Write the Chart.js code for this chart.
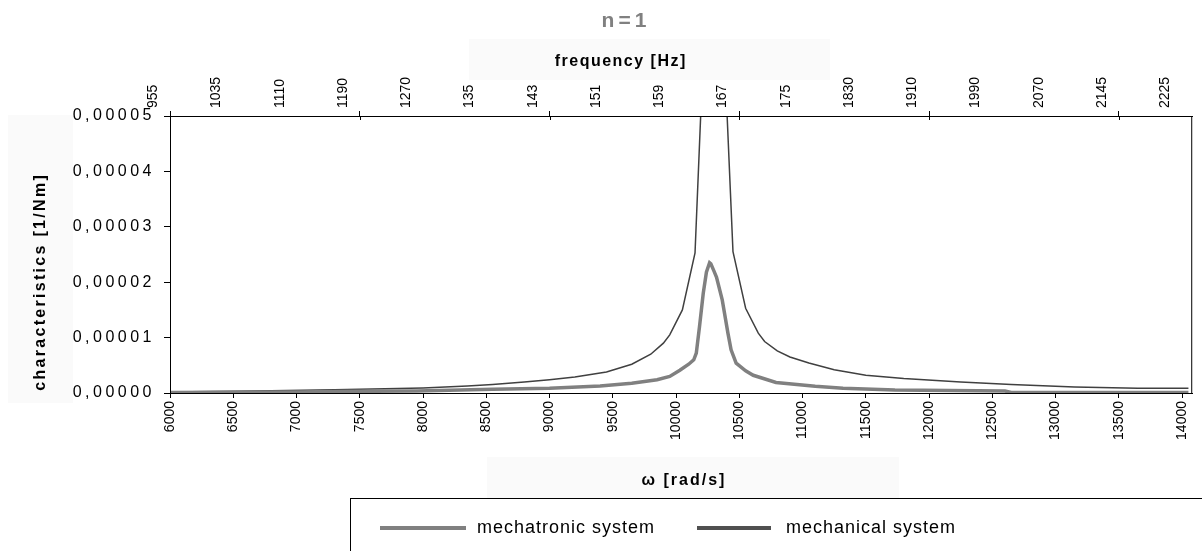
<!DOCTYPE html>
<html>
<head>
<meta charset="utf-8">
<script src="https://cdn.jsdelivr.net/npm/chart.js@4.4.1/dist/chart.umd.min.js"></script>
<style>
  html, body { margin: 0; padding: 0; background: #fff; }
  #wrap { position: relative; width: 1202px; height: 551px; }
</style>
</head>
<body>
<div id="wrap"><canvas id="freqChart"></canvas></div>
<script>
// omega ticks [rad/s] and the matching frequency labels [Hz] (as printed, some truncated)
const omegaTicks = [6000, 6500, 7000, 7500, 8000, 8500, 9000, 9500, 10000, 10500, 11000, 11500, 12000, 12500, 13000, 13500, 14000];
const freqLabels = ["955", "1035", "1110", "1190", "1270", "135", "143", "151", "159", "167", "175", "1830", "1910", "1990", "2070", "2145", "2225"];

// mechanical system (values in 1e-5 1/Nm)
const omegaMech = [6000, 6500, 6800, 7300, 7800, 8000, 8350, 8550, 8800, 9000, 9200, 9450, 9650, 9800, 9900, 9950, 10050, 10150, 10200, 10250, 10300, 10350, 10400, 10450, 10550, 10650, 10700, 10800, 10900, 11050, 11250, 11500, 11800, 12250, 12650, 13150, 13650, 14050];
const valuesMech = [0.02, 0.03, 0.04, 0.06, 0.08, 0.09, 0.125, 0.155, 0.2, 0.24, 0.29, 0.38, 0.52, 0.7, 0.9, 1.05, 1.5, 2.53, 5.3, 12, 15, 9, 5.2, 2.55, 1.53, 1.08, 0.93, 0.76, 0.65, 0.54, 0.42, 0.32, 0.26, 0.2, 0.155, 0.11, 0.085, 0.085];

// mechatronic system (values in 1e-5 1/Nm)
const omegaMtr = [6000, 7000, 7500, 7950, 8550, 9000, 9400, 9650, 9850, 9950, 10030, 10100, 10140, 10160, 10185, 10215, 10240, 10265, 10275, 10300, 10320, 10365, 10410, 10435, 10475, 10550, 10610, 10790, 11100, 11320, 11730, 12600, 12650, 14050];
const valuesMtr = [0.01, 0.02, 0.03, 0.036, 0.066, 0.085, 0.126, 0.175, 0.24, 0.3, 0.41, 0.52, 0.6, 0.72, 1.19, 1.8, 2.18, 2.35, 2.33, 2.2, 2.09, 1.68, 1.08, 0.78, 0.54, 0.4, 0.32, 0.19, 0.12, 0.085, 0.055, 0.036, 0.008, 0.008];

const seriesNames = ["mechatronic system", "mechanical system"];
const seriesColors = ["#808080", "#404040"];

const toPoints = (xs, ys) => xs.map((x, i) => ({ x: x, y: ys[i] * 1e-5 }));
const FONT = "'Liberation Sans', Arial, sans-serif";

function drawText(ctx, s, x, y, font, color, spacing, align, rot) {
  ctx.save();
  ctx.translate(x, y);
  if (rot) ctx.rotate(rot);
  ctx.font = font;
  ctx.fillStyle = color;
  ctx.letterSpacing = spacing + "px";
  ctx.textBaseline = "middle";
  ctx.textAlign = "left";
  const w = ctx.measureText(s).width - spacing;
  const x0 = align === "center" ? -w / 2 : 0;
  ctx.fillText(s, x0, 0);
  ctx.restore();
}

const decorPlugin = {
  id: "decor",
  beforeDraw(chart) {
    chart.ctx.letterSpacing = "0px";
  },
  afterDatasetsDraw(chart) {
    // y tick labels (ticks.z = 1) are drawn after this, wide-spaced like the original
    chart.ctx.letterSpacing = "3.5px";
  },
  afterDraw(chart) {
    const ctx = chart.ctx;
    const a = chart.chartArea;
    ctx.letterSpacing = "0px";

    // plot frame
    ctx.save();
    ctx.strokeStyle = "#000";
    ctx.lineWidth = 1;
    ctx.strokeRect(a.left + 0.5, a.top + 0.5, a.right - a.left - 1, a.bottom - a.top);
    // top axis ticks cross the axis line
    const top = chart.scales.xTop;
    top.ticks.forEach((t, i) => {
      if (i % 3 !== 0) return;
      const px = Math.round(top.getPixelForValue(t.value)) + 0.5;
      ctx.beginPath();
      ctx.moveTo(px, a.top);
      ctx.lineTo(px, a.top + 4);
      ctx.stroke();
    });
    ctx.restore();

    // title
    drawText(ctx, "n=1", 624, 21, "bold 21px " + FONT, "#808080", 4, "center");

    // top axis title box
    ctx.fillStyle = "#fafafa";
    ctx.fillRect(469, 39, 361, 41);
    drawText(ctx, "frequency [Hz]", 620, 62, "bold 16px " + FONT, "#000", 1.5, "center");

    // y axis title box
    ctx.fillStyle = "#fafafa";
    ctx.fillRect(8, 115, 65, 288);
    drawText(ctx, "characteristics [1/Nm]", 41, 283, "bold 16px " + FONT, "#000", 2.3, "center", -Math.PI / 2);

    // legend box
    ctx.save();
    ctx.fillStyle = "#fff";
    ctx.fillRect(350, 498, 900, 100);
    ctx.strokeStyle = "#000";
    ctx.lineWidth = 1;
    ctx.strokeRect(350.5, 498.5, 900, 100);
    ctx.restore();

    // bottom axis title box
    ctx.fillStyle = "#fafafa";
    ctx.fillRect(487, 457, 412, 41);
    drawText(ctx, "\u03c9 [rad/s]", 683, 481, "bold 16px " + FONT, "#000", 2, "center");

    // legend entries
    const items = [
      { x0: 380, x1: 466, tx: 477 },
      { x0: 697, x1: 771, tx: 786 }
    ];
    chart.data.datasets.forEach((ds, i) => {
      const it = items[i];
      ctx.save();
      ctx.strokeStyle = i === 0 ? "#808080" : "#505050";
      ctx.lineWidth = 4;
      ctx.beginPath();
      ctx.moveTo(it.x0, 528);
      ctx.lineTo(it.x1, 528);
      ctx.stroke();
      ctx.restore();
      drawText(ctx, ds.label, it.tx, 528, "18px " + FONT, "#000", 1, "left");
    });
  }
};

const setTicks = (scale) => {
  scale.ticks = omegaTicks.map(v => ({ value: v }));
};

new Chart(document.getElementById("freqChart").getContext("2d"), {
  type: "line",
  data: {
    datasets: [
      {
        label: seriesNames[0],
        data: toPoints(omegaMtr, valuesMtr),
        borderColor: seriesColors[0],
        borderWidth: 3.5,
        pointRadius: 0,
        tension: 0
      },
      {
        label: seriesNames[1],
        data: toPoints(omegaMech, valuesMech),
        borderColor: seriesColors[1],
        borderWidth: 1.5,
        pointRadius: 0,
        tension: 0
      }
    ]
  },
  options: {
    responsive: true,
    maintainAspectRatio: false,
    animation: false,
    layout: { padding: { left: 0, right: 1, top: 0, bottom: 0 } },
    plugins: {
      legend: { display: false },
      title: { display: false },
      tooltip: { enabled: false }
    },
    scales: {
      x: {
        type: "linear",
        position: "bottom",
        min: 6000,
        max: 14080,
        afterBuildTicks: setTicks,
        afterFit: (s) => { s.height = 158; },
        ticks: {
          autoSkip: false,
          minRotation: 90,
          maxRotation: 90,
          padding: 3,
          color: "#000",
          font: { family: FONT, size: 14 },
          callback: (v) => String(v)
        },
        grid: { drawOnChartArea: false, tickLength: 5, color: "#000" },
        border: { color: "#000" }
      },
      xTop: {
        type: "linear",
        position: "top",
        min: 6000,
        max: 14080,
        afterBuildTicks: setTicks,
        afterFit: (s) => { s.height = 116; },
        ticks: {
          autoSkip: false,
          minRotation: 90,
          maxRotation: 90,
          padding: 3,
          color: "#000",
          font: { family: FONT, size: 14 },
          callback: (v, i) => freqLabels[i]
        },
        grid: {
          drawOnChartArea: false,
          tickLength: 5,
          color: (c) => (c.index % 3 === 0 ? "#000" : "rgba(0,0,0,0)")
        },
        border: { color: "#000" }
      },
      y: {
        min: 0,
        max: 0.00005,
        afterFit: (s) => { s.width = 170; },
        ticks: {
          z: 1,
          stepSize: 0.00001,
          padding: 9,
          color: "#000",
          font: { family: FONT, size: 16 },
          callback: (v) => v.toFixed(5).replace(".", ",")
        },
        grid: { drawOnChartArea: false, tickLength: 6, color: "#000" },
        border: { color: "#000" }
      }
    }
  },
  plugins: [decorPlugin]
});
</script>
</body>
</html>
